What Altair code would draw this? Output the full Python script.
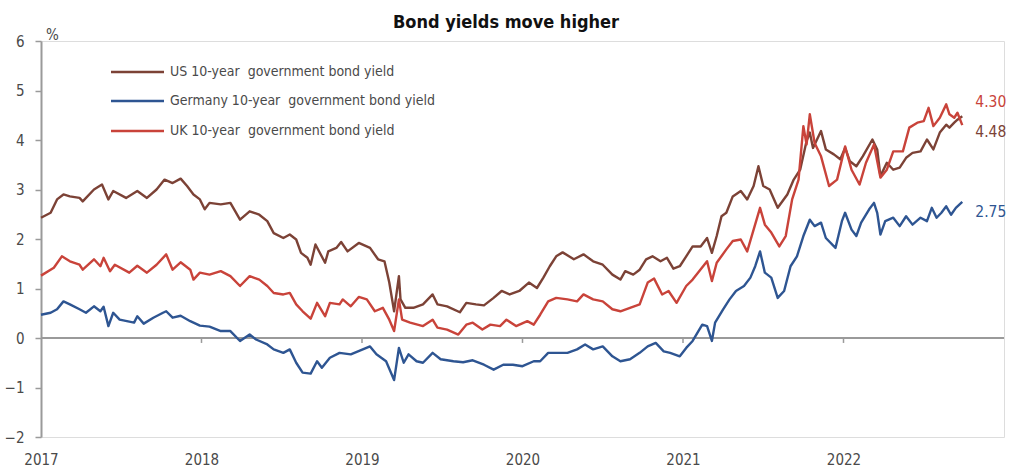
import altair as alt
import pandas as pd

# ---- data (fractional year, yield %) ----
us_t = [2017.00, 2017.06, 2017.10, 2017.14, 2017.18, 2017.24, 2017.26, 2017.33, 2017.38, 2017.42,
        2017.45, 2017.53, 2017.60, 2017.66, 2017.72, 2017.77, 2017.82, 2017.87, 2017.91, 2017.95,
        2017.99, 2018.02, 2018.05, 2018.12, 2018.18, 2018.24, 2018.30, 2018.36, 2018.41, 2018.45,
        2018.51, 2018.55, 2018.59, 2018.62, 2018.66, 2018.68, 2018.71, 2018.77, 2018.79, 2018.84,
        2018.87, 2018.91, 2018.98, 2019.05, 2019.10, 2019.14, 2019.17, 2019.20, 2019.23, 2019.24,
        2019.27, 2019.32, 2019.38, 2019.44, 2019.47, 2019.53, 2019.61, 2019.65, 2019.71, 2019.76,
        2019.82, 2019.87, 2019.92, 2019.98, 2020.04, 2020.09, 2020.13, 2020.17, 2020.21, 2020.25,
        2020.32, 2020.38, 2020.44, 2020.50, 2020.56, 2020.61, 2020.64, 2020.69, 2020.73, 2020.77,
        2020.81, 2020.86, 2020.90, 2020.94, 2020.98, 2021.02, 2021.06, 2021.11, 2021.15, 2021.18,
        2021.21, 2021.24, 2021.27, 2021.31, 2021.36, 2021.40, 2021.44, 2021.47, 2021.50, 2021.54,
        2021.59, 2021.65, 2021.69, 2021.73, 2021.77, 2021.79, 2021.81, 2021.86, 2021.89, 2021.94,
        2021.98, 2022.01, 2022.04, 2022.08, 2022.12, 2022.18, 2022.21, 2022.23, 2022.27, 2022.31,
        2022.35, 2022.39, 2022.43, 2022.48, 2022.52, 2022.56, 2022.60, 2022.64, 2022.66, 2022.69,
        2022.71, 2022.74]
us_v = [2.43, 2.53, 2.80, 2.90, 2.86, 2.83, 2.76, 3.00, 3.10, 2.80,
        2.97, 2.83, 2.97, 2.83, 3.00, 3.20, 3.13, 3.22, 3.07, 2.90,
        2.80, 2.60, 2.73, 2.70, 2.73, 2.39, 2.56, 2.49, 2.36, 2.12,
        2.02, 2.09, 1.99, 1.72, 1.62, 1.48, 1.89, 1.52, 1.75, 1.82,
        1.94, 1.75, 1.92, 1.82, 1.59, 1.55, 1.12, 0.54, 1.25, 0.78,
        0.61, 0.61, 0.68, 0.88, 0.68, 0.64, 0.52, 0.71, 0.68, 0.66,
        0.81, 0.95, 0.88, 0.95, 1.12, 1.01, 1.22, 1.45, 1.65, 1.73,
        1.59, 1.69, 1.55, 1.48, 1.28, 1.18, 1.35, 1.28, 1.38, 1.59,
        1.65, 1.55, 1.62, 1.40, 1.45, 1.65, 1.85, 1.85, 2.02, 1.72,
        2.06, 2.46, 2.53, 2.86, 2.97, 2.80, 3.07, 3.47, 3.07, 3.00,
        2.63, 2.90, 3.20, 3.40, 3.98, 4.15, 3.84, 4.18, 3.81, 3.71,
        3.61, 3.84, 3.57, 3.47, 3.67, 4.01, 3.81, 3.27, 3.54, 3.40,
        3.44, 3.64, 3.74, 3.77, 4.01, 3.81, 4.15, 4.31, 4.25, 4.35,
        4.41, 4.48]

de_t = [2017.00, 2017.06, 2017.10, 2017.14, 2017.18, 2017.24, 2017.28, 2017.33, 2017.37, 2017.39,
        2017.42, 2017.45, 2017.49, 2017.58, 2017.60, 2017.64, 2017.70, 2017.76, 2017.78, 2017.82,
        2017.87, 2017.93, 2017.99, 2018.05, 2018.12, 2018.18, 2018.24, 2018.30, 2018.34, 2018.41,
        2018.45, 2018.51, 2018.55, 2018.59, 2018.63, 2018.68, 2018.72, 2018.75, 2018.80, 2018.86,
        2018.93, 2018.99, 2019.05, 2019.09, 2019.15, 2019.20, 2019.23, 2019.26, 2019.29, 2019.34,
        2019.38, 2019.44, 2019.49, 2019.57, 2019.63, 2019.69, 2019.76, 2019.82, 2019.88, 2019.94,
        2020.00, 2020.07, 2020.11, 2020.16, 2020.21, 2020.28, 2020.34, 2020.39, 2020.44, 2020.50,
        2020.56, 2020.61, 2020.67, 2020.73, 2020.78, 2020.83, 2020.88, 2020.92, 2020.98, 2021.02,
        2021.06, 2021.12, 2021.15, 2021.18, 2021.20, 2021.25, 2021.29, 2021.33, 2021.38, 2021.42,
        2021.45, 2021.48, 2021.51, 2021.55, 2021.59, 2021.63, 2021.67, 2021.71, 2021.75, 2021.79,
        2021.82, 2021.86, 2021.89, 2021.95, 2021.99, 2022.01, 2022.05, 2022.08, 2022.11, 2022.16,
        2022.19, 2022.21, 2022.23, 2022.26, 2022.31, 2022.35, 2022.39, 2022.43, 2022.48, 2022.52,
        2022.55, 2022.58, 2022.61, 2022.64, 2022.67, 2022.70, 2022.74]
de_v = [0.47, 0.51, 0.58, 0.74, 0.68, 0.58, 0.51, 0.64, 0.54, 0.63,
        0.24, 0.51, 0.37, 0.31, 0.44, 0.29, 0.41, 0.51, 0.54, 0.41,
        0.45, 0.34, 0.25, 0.23, 0.14, 0.14, -0.06, 0.07, -0.03, -0.13,
        -0.23, -0.30, -0.23, -0.50, -0.70, -0.72, -0.47, -0.60, -0.40, -0.30,
        -0.33, -0.25, -0.17, -0.33, -0.47, -0.85, -0.20, -0.50, -0.33, -0.47,
        -0.50, -0.30, -0.43, -0.47, -0.49, -0.45, -0.54, -0.64, -0.54, -0.54,
        -0.57, -0.47, -0.47, -0.30, -0.30, -0.30, -0.23, -0.13, -0.23, -0.17,
        -0.37, -0.47, -0.43, -0.30, -0.17, -0.10, -0.27, -0.30, -0.37, -0.20,
        -0.06, 0.27, 0.24, -0.06, 0.31, 0.58, 0.78, 0.95, 1.05, 1.22,
        1.45, 1.75, 1.32, 1.22, 0.81, 0.95, 1.45, 1.65, 2.06, 2.39,
        2.26, 2.33, 2.02, 1.82, 2.36, 2.53, 2.19, 2.06, 2.33, 2.60,
        2.73, 2.53, 2.09, 2.36, 2.43, 2.26, 2.46, 2.29, 2.43, 2.36,
        2.63, 2.43, 2.53, 2.66, 2.49, 2.63, 2.75]

uk_t = [2017.00, 2017.08, 2017.13, 2017.18, 2017.24, 2017.26, 2017.33, 2017.37, 2017.39, 2017.43,
        2017.46, 2017.55, 2017.60, 2017.66, 2017.72, 2017.78, 2017.82, 2017.87, 2017.93, 2017.95,
        2017.99, 2018.05, 2018.12, 2018.18, 2018.24, 2018.30, 2018.36, 2018.41, 2018.45, 2018.51,
        2018.55, 2018.59, 2018.63, 2018.68, 2018.72, 2018.77, 2018.80, 2018.86, 2018.88, 2018.93,
        2018.98, 2019.03, 2019.08, 2019.13, 2019.17, 2019.20, 2019.23, 2019.25, 2019.30, 2019.38,
        2019.44, 2019.47, 2019.53, 2019.60, 2019.65, 2019.69, 2019.75, 2019.80, 2019.86, 2019.90,
        2019.96, 2020.03, 2020.07, 2020.11, 2020.16, 2020.21, 2020.28, 2020.34, 2020.38, 2020.44,
        2020.50, 2020.56, 2020.61, 2020.67, 2020.73, 2020.78, 2020.82, 2020.87, 2020.91, 2020.96,
        2021.02, 2021.06, 2021.15, 2021.18, 2021.21, 2021.27, 2021.31, 2021.36, 2021.40, 2021.44,
        2021.48, 2021.51, 2021.55, 2021.60, 2021.64, 2021.68, 2021.72, 2021.75, 2021.77, 2021.79,
        2021.82, 2021.86, 2021.91, 2021.96, 2022.01, 2022.05, 2022.10, 2022.14, 2022.19, 2022.23,
        2022.27, 2022.31, 2022.37, 2022.41, 2022.46, 2022.50, 2022.53, 2022.56, 2022.60, 2022.64,
        2022.66, 2022.69, 2022.71, 2022.74]
uk_v = [1.26, 1.42, 1.65, 1.55, 1.48, 1.38, 1.59, 1.45, 1.62, 1.35,
        1.48, 1.32, 1.46, 1.32, 1.48, 1.69, 1.38, 1.53, 1.38, 1.18,
        1.32, 1.28, 1.35, 1.25, 1.05, 1.25, 1.18, 1.05, 0.91, 0.88,
        0.91, 0.68, 0.54, 0.39, 0.71, 0.44, 0.71, 0.68, 0.78, 0.64,
        0.83, 0.78, 0.54, 0.61, 0.37, 0.14, 0.78, 0.37, 0.31, 0.24,
        0.37, 0.21, 0.17, 0.07, 0.27, 0.31, 0.17, 0.27, 0.24, 0.37,
        0.24, 0.34, 0.27, 0.47, 0.74, 0.81, 0.78, 0.74, 0.88, 0.78,
        0.74, 0.58, 0.54, 0.61, 0.68, 1.12, 1.20, 0.88, 0.95, 0.71,
        1.05, 1.18, 1.55, 1.15, 1.52, 1.79, 1.96, 1.99, 1.75, 2.19,
        2.63, 2.29, 2.13, 1.85, 2.06, 2.80, 3.20, 4.28, 3.91, 4.52,
        3.94, 3.67, 3.07, 3.20, 3.87, 3.40, 3.10, 3.54, 3.91, 3.24,
        3.40, 3.77, 3.77, 4.25, 4.35, 4.38, 4.65, 4.28, 4.45, 4.72,
        4.52, 4.45, 4.55, 4.30]

NB = "\u00a0"
series_names = ["US 10-year" + NB + " government bond yield",
                "Germany 10-year" + NB + " government bond yield",
                "UK 10-year" + NB + " government bond yield"]
series_colors = ["#7c4236", "#2e5592", "#c9433a"]
end_labels = ["4.48", "2.75", "4.30"]
year_ticks = [2017, 2018, 2019, 2020, 2021, 2022]
y_ticks = [-2, -1, 0, 1, 2, 3, 4, 5, 6]
title_text = "Bond yields move higher"

FONT = "'Liberation Sans Narrow', 'DejaVu Sans Condensed', 'Roboto Condensed', 'Arial Narrow', Roboto, sans-serif"
TXT = "#4a4a4a"
AX = "#9a9a9a"

frames = []
for name, t, v in [(series_names[0], us_t, us_v), (series_names[1], de_t, de_v), (series_names[2], uk_t, uk_v)]:
    frames.append(pd.DataFrame({"t": t, "v": v, "series": name}))
df = pd.concat(frames, ignore_index=True)

xs = alt.Scale(domain=[2017, 2023], nice=False, zero=False)
ys = alt.Scale(domain=[-2, 6], nice=False, zero=False)
color = alt.Color("series:N", scale=alt.Scale(domain=series_names, range=series_colors), legend=None)

base_x = alt.X("t:Q", scale=xs,
               axis=alt.Axis(values=year_ticks, format="d", domain=False, ticks=False, grid=False,
                             labelFlush=False, labelFont=FONT, labelFontSize=15, labelColor=TXT,
                             labelPadding=15, title=None))
base_y = alt.Y("v:Q", scale=ys,
               axis=alt.Axis(values=y_ticks, domainColor=AX, domainWidth=2, tickColor=AX, tickWidth=1.5,
                             tickSize=6, grid=False, labelFlush=False, labelFont=FONT, labelFontSize=15,
                             labelColor=TXT, labelPadding=11, title=None))

zero_df = pd.DataFrame({"t": [2017, 2023], "v": [0, 0]})
zero_line = alt.Chart(zero_df).mark_line(color=AX, strokeWidth=2).encode(
    x=alt.X("t:Q", scale=xs), y=alt.Y("v:Q", scale=ys))

tick_df = pd.DataFrame({"t": year_ticks[1:]})
zero_ticks = alt.Chart(tick_df).mark_rule(color=AX, strokeWidth=1.5).encode(
    x=alt.X("t:Q", scale=xs), y=alt.datum(0, scale=ys), y2=alt.datum(-0.1))

layers = [zero_line, zero_ticks]
for name in series_names:
    layers.append(
        alt.Chart(df[df.series == name]).mark_line(strokeWidth=2.4, strokeJoin="round").encode(
            x=base_x, y=base_y, color=color, order=alt.Order("t:Q"))
    )

# end-of-line value labels, anchored at each series' final value
end_df = pd.DataFrame({
    "t": [us_t[-1], de_t[-1], uk_t[-1]],
    "v": [us_v[-1], de_v[-1], uk_v[-1]],
    "series": series_names,
    "label": end_labels,
})
label_dy = {series_names[0]: 16, series_names[1]: 10, series_names[2]: -23}
for name in series_names:
    sub = end_df[end_df.series == name]
    layers.append(
        alt.Chart(sub).mark_text(align="left", baseline="middle", font=FONT, fontSize=15.5,
                                 dx=13, dy=label_dy[name]).encode(
            x=alt.X("t:Q", scale=xs), y=alt.Y("v:Q", scale=ys), text="label:N",
            color=color)
    )

# manual legend
row_y = [31, 60, 90]
for i, name in enumerate(series_names):
    layers.append(
        alt.Chart(pd.DataFrame({"series": [name]})).mark_rule(strokeWidth=2.5).encode(
            x=alt.value(70), x2=alt.value(123), y=alt.value(row_y[i]), color=color)
    )
    layers.append(
        alt.Chart(pd.DataFrame({"series": [name]})).mark_text(
            align="left", baseline="middle", font=FONT, fontSize=14, color=TXT).encode(
            x=alt.value(129), y=alt.value(row_y[i]), text="series:N")
    )

# "%" unit label
layers.append(
    alt.Chart(pd.DataFrame({"u": ["%"]})).mark_text(
        align="left", baseline="bottom", font=FONT, fontSize=15, color=TXT).encode(
        x=alt.value(5), y=alt.value(2), text="u:N")
)

# title
layers.append(
    alt.Chart(pd.DataFrame({"title": [title_text]})).mark_text(
        align="center", baseline="middle", font=FONT, fontSize=18, fontWeight="bold",
        color="#111111").encode(
        x=alt.value(465), y=alt.value(-18), text="title:N")
)

chart = alt.layer(*layers).properties(
    width=963, height=396,
    autosize=alt.AutoSizeParams(type="none"),
    padding={"left": 41, "top": 41, "right": 15, "bottom": 31},
).configure_view(stroke=None).configure(background="white")

chart.save("out.html", embed_options={"renderer": "svg", "actions": False})
